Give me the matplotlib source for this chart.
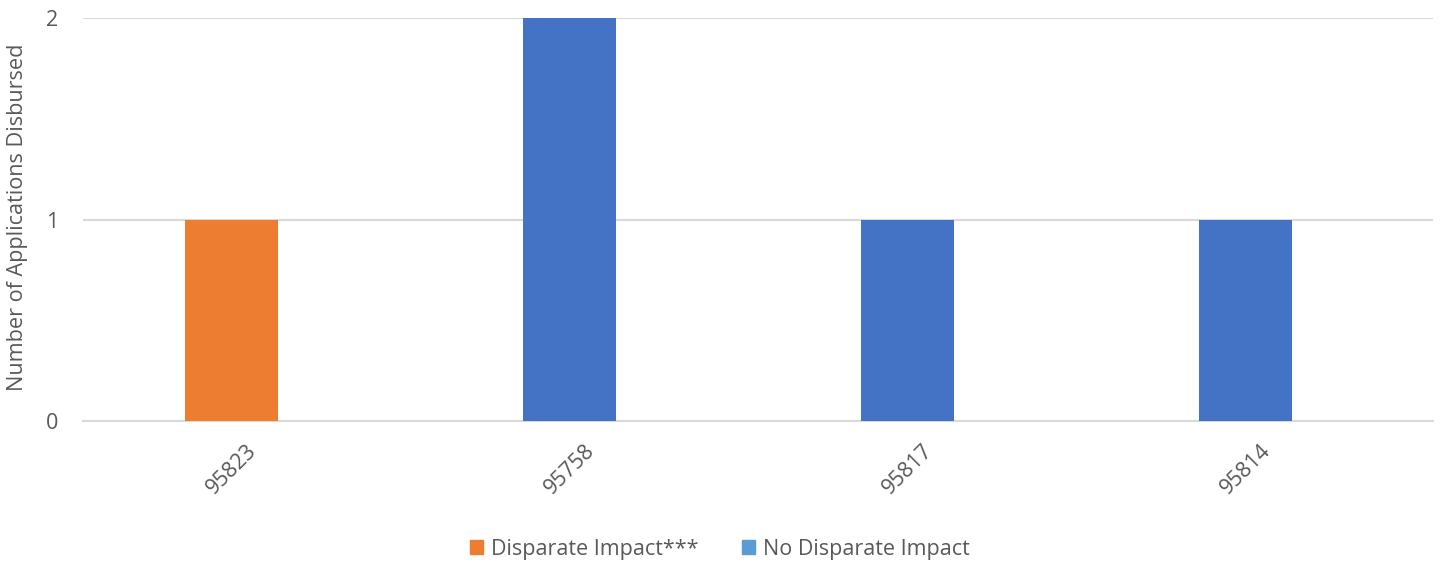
import matplotlib
matplotlib.use("Agg")
import matplotlib.pyplot as plt
from matplotlib.patches import Patch

# Data
zip_codes = ["95823", "95758", "95817", "95814"]
applications = [1, 2, 1, 1]
impact = ["Disparate Impact***", "No Disparate Impact", "No Disparate Impact", "No Disparate Impact"]
y_ticks = [0, 1, 2]

bar_colors = {"Disparate Impact***": "#ED7D31", "No Disparate Impact": "#4472C4"}
legend_colors = {"Disparate Impact***": "#ED7D31", "No Disparate Impact": "#5B9BD5"}
text_color = "#595959"

plt.rcParams["font.family"] = ["Open Sans", "DejaVu Sans"]

fig = plt.figure(figsize=(14.4, 5.65), dpi=100)
ax = fig.add_axes([83 / 1440, 1 - 421 / 565, 1350 / 1440, 403 / 565])

x = range(len(zip_codes))
ax.bar(x, applications, width=0.275, color=[bar_colors[i] for i in impact], zorder=3)

ax.set_xlim(-0.44, 3.554)
ax.set_ylim(0, 2)
ax.set_yticks(y_ticks)
ax.set_yticklabels([str(t) for t in y_ticks], fontsize=15.5, color=text_color)
ax.set_xticks(list(x))
ax.set_xticklabels(zip_codes, rotation=45, ha="center", fontsize=15.5, color=text_color)
ax.tick_params(axis="both", length=0)
ax.tick_params(axis="y", pad=18)
ax.tick_params(axis="x", pad=14)

ax.grid(axis="y", color="#D9D9D9", linewidth=1.5, zorder=0)
for side in ["top", "right", "left"]:
    ax.spines[side].set_visible(False)
ax.spines["bottom"].set_color("#D9D9D9")
ax.spines["bottom"].set_linewidth(1.5)

ax.set_ylabel("Number of Applications Disbursed", fontsize=15.6, color=text_color)
ax.yaxis.set_label_coords(-0.041, 0.505)

handles = [Patch(color=legend_colors[k], label=k) for k in legend_colors]
fig.legend(handles=handles, loc="center", bbox_to_anchor=(0.5, 0.028), ncol=2,
           frameon=False, fontsize=15.5, labelcolor=text_color,
           handlelength=0.6, handleheight=0.6, handletextpad=0.4, columnspacing=2.0)

fig.savefig("out.png", dpi=100)
